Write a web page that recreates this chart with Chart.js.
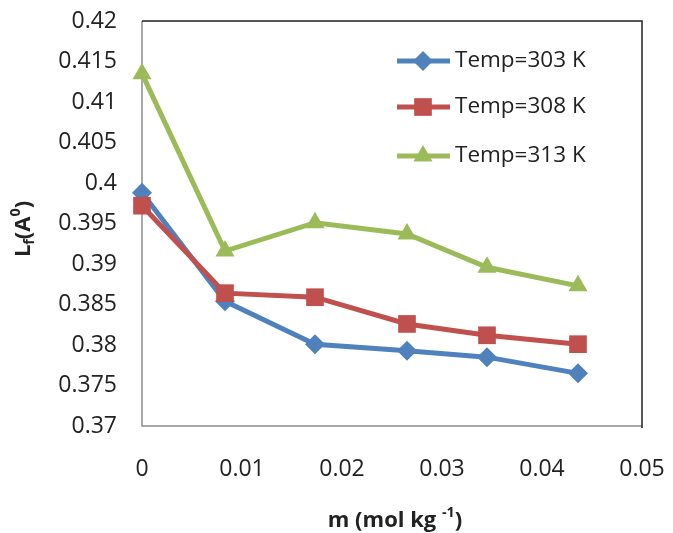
<!DOCTYPE html>
<html>
<head>
<meta charset="utf-8">
<script src="https://cdn.jsdelivr.net/npm/chart.js@4.4.1/dist/chart.umd.min.js"></script>
<style>
  html, body { margin: 0; padding: 0; background: #fff; }
  #wrap { width: 673px; height: 533px; position: relative; }
</style>
</head>
<body>
<div id="wrap"><canvas id="lfChart"></canvas></div>
<script>
// molality (mol/kg) and free length Lf at each temperature
const molality = [0, 0.0083, 0.0173, 0.0265, 0.0345, 0.0436];
const lf303 = [0.3988, 0.3854, 0.3801, 0.3793, 0.3785, 0.3765];
const lf308 = [0.3972, 0.3864, 0.3859, 0.3826, 0.3812, 0.3801];
const lf313 = [0.4135, 0.3916, 0.3951, 0.3937, 0.3896, 0.3873];
const seriesNames = ['Temp=303 K', 'Temp=308 K', 'Temp=313 K'];

const FONT = '"Open Sans", Lato, sans-serif';
const TEXT = '#222';

function toPoints(ys) {
    return ys.map((y, i) => ({ x: molality[i], y: y }));
}

function makeSet(label, ys, color, style, radius, order) {
    return {
        label: label,
        data: toPoints(ys),
        borderColor: color,
        backgroundColor: color,
        borderWidth: 5,
        pointStyle: style,
        pointRadius: radius,
        pointHoverRadius: radius,
        pointBorderWidth: 0,
        tension: 0,
        clip: false,
        order: order
    };
}

// draws a run of text pieces, some raised or lowered
function drawRuns(ctx, runs, size, x, y) {
    let total = 0;
    runs.forEach(r => {
        ctx.font = 'bold ' + (r.pos ? size * 0.65 : size) + 'px ' + FONT;
        r.w = ctx.measureText(r.t).width;
        total += r.w;
    });
    let cx = x - total / 2;
    runs.forEach(r => {
        ctx.font = 'bold ' + (r.pos ? size * 0.65 : size) + 'px ' + FONT;
        let dy = 0;
        if (r.pos === 'sup') dy = -size * 0.38;
        if (r.pos === 'sub') dy = size * 0.28;
        ctx.fillText(r.t, cx, y + dy);
        cx += r.w;
    });
}

function marker(ctx, style, x, y, r) {
    ctx.beginPath();
    if (style === 'rectRot') {
        ctx.moveTo(x, y - r); ctx.lineTo(x + r, y); ctx.lineTo(x, y + r); ctx.lineTo(x - r, y);
    } else if (style === 'rect') {
        const s = Math.SQRT1_2 * r;
        ctx.rect(x - s, y - s, 2 * s, 2 * s);
    } else {
        ctx.moveTo(x, y - r);
        ctx.lineTo(x + r * 0.866, y + r * 0.5);
        ctx.lineTo(x - r * 0.866, y + r * 0.5);
    }
    ctx.closePath();
    ctx.fill();
}

const framePlugin = {
    id: 'frame',
    beforeDatasetsDraw(chart) {
        const { ctx, chartArea: a } = chart;
        ctx.save();
        ctx.lineWidth = 1.5;
        ctx.strokeStyle = '#8a8a8a';
        ctx.beginPath();
        ctx.moveTo(a.left, a.top);
        ctx.lineTo(a.left, a.bottom);
        ctx.lineTo(a.right, a.bottom);
        ctx.stroke();
        ctx.strokeStyle = '#222';
        ctx.beginPath();
        ctx.moveTo(a.left, a.top);
        ctx.lineTo(a.right, a.top);
        ctx.lineTo(a.right, a.bottom + 2);
        ctx.stroke();
        ctx.restore();
    },
    afterDraw(chart) {
        const { ctx } = chart;
        ctx.save();
        ctx.fillStyle = TEXT;
        ctx.textAlign = 'left';
        ctx.textBaseline = 'middle';
        // x title
        drawRuns(ctx, [{ t: 'm (mol kg ' }, { t: '-1', pos: 'sup' }, { t: ')' }], 22, 395, 521);
        // y title, rotated
        ctx.translate(24, 229);
        ctx.rotate(-Math.PI / 2);
        drawRuns(ctx, [{ t: 'L' }, { t: 'f', pos: 'sub' }, { t: '(A' }, { t: '0', pos: 'sup' }, { t: ')' }], 22, 0, 0);
        ctx.restore();

        // legend
        ctx.save();
        ctx.font = '22.5px ' + FONT;
        ctx.textBaseline = 'middle';
        ctx.textAlign = 'left';
        const rows = [61, 107, 156];
        chart.data.datasets.forEach((ds, i) => {
            const y = rows[i];
            ctx.strokeStyle = ds.borderColor;
            ctx.fillStyle = ds.borderColor;
            ctx.lineWidth = 5;
            ctx.beginPath();
            ctx.moveTo(397, y);
            ctx.lineTo(450, y);
            ctx.stroke();
            marker(ctx, ds.pointStyle, 423, y, ds.pointRadius);
            ctx.fillStyle = TEXT;
            ctx.fillText(ds.label, 455, y);
        });
        ctx.restore();
    }
};

new Chart(document.getElementById('lfChart'), {
    type: 'line',
    data: {
        datasets: [
            makeSet(seriesNames[0], lf303, '#4F81BD', 'rectRot', 10, 3),
            makeSet(seriesNames[1], lf308, '#C0504D', 'rect', 12.5, 2),
            makeSet(seriesNames[2], lf313, '#9BBB59', 'triangle', 11, 1)
        ]
    },
    options: {
        responsive: true,
        maintainAspectRatio: false,
        animation: false,
        events: [],
        layout: { padding: { left: 0, right: 31, top: 21, bottom: 0 } },
        plugins: {
            legend: { display: false },
            tooltip: { enabled: false }
        },
        scales: {
            x: {
                type: 'linear',
                min: 0,
                max: 0.05,
                afterFit: (s) => { s.height = 107; s.paddingLeft = 0; s.paddingRight = 0; },
                grid: { display: false, drawTicks: false },
                border: { display: false },
                ticks: {
                    stepSize: 0.01,
                    padding: 30,
                    color: TEXT,
                    font: { family: FONT, size: 23 },
                    callback: (v) => String(Number(v.toFixed(2)))
                }
            },
            y: {
                min: 0.37,
                max: 0.42,
                afterFit: (s) => { s.width = 142; s.paddingTop = 0; s.paddingBottom = 0; },
                grid: { display: false, drawTicks: false },
                border: { display: false },
                ticks: {
                    stepSize: 0.005,
                    padding: 25,
                    color: TEXT,
                    font: { family: FONT, size: 23 },
                    callback: (v) => String(Number(v.toFixed(3)))
                }
            }
        }
    },
    plugins: [framePlugin]
});
</script>
</body>
</html>
